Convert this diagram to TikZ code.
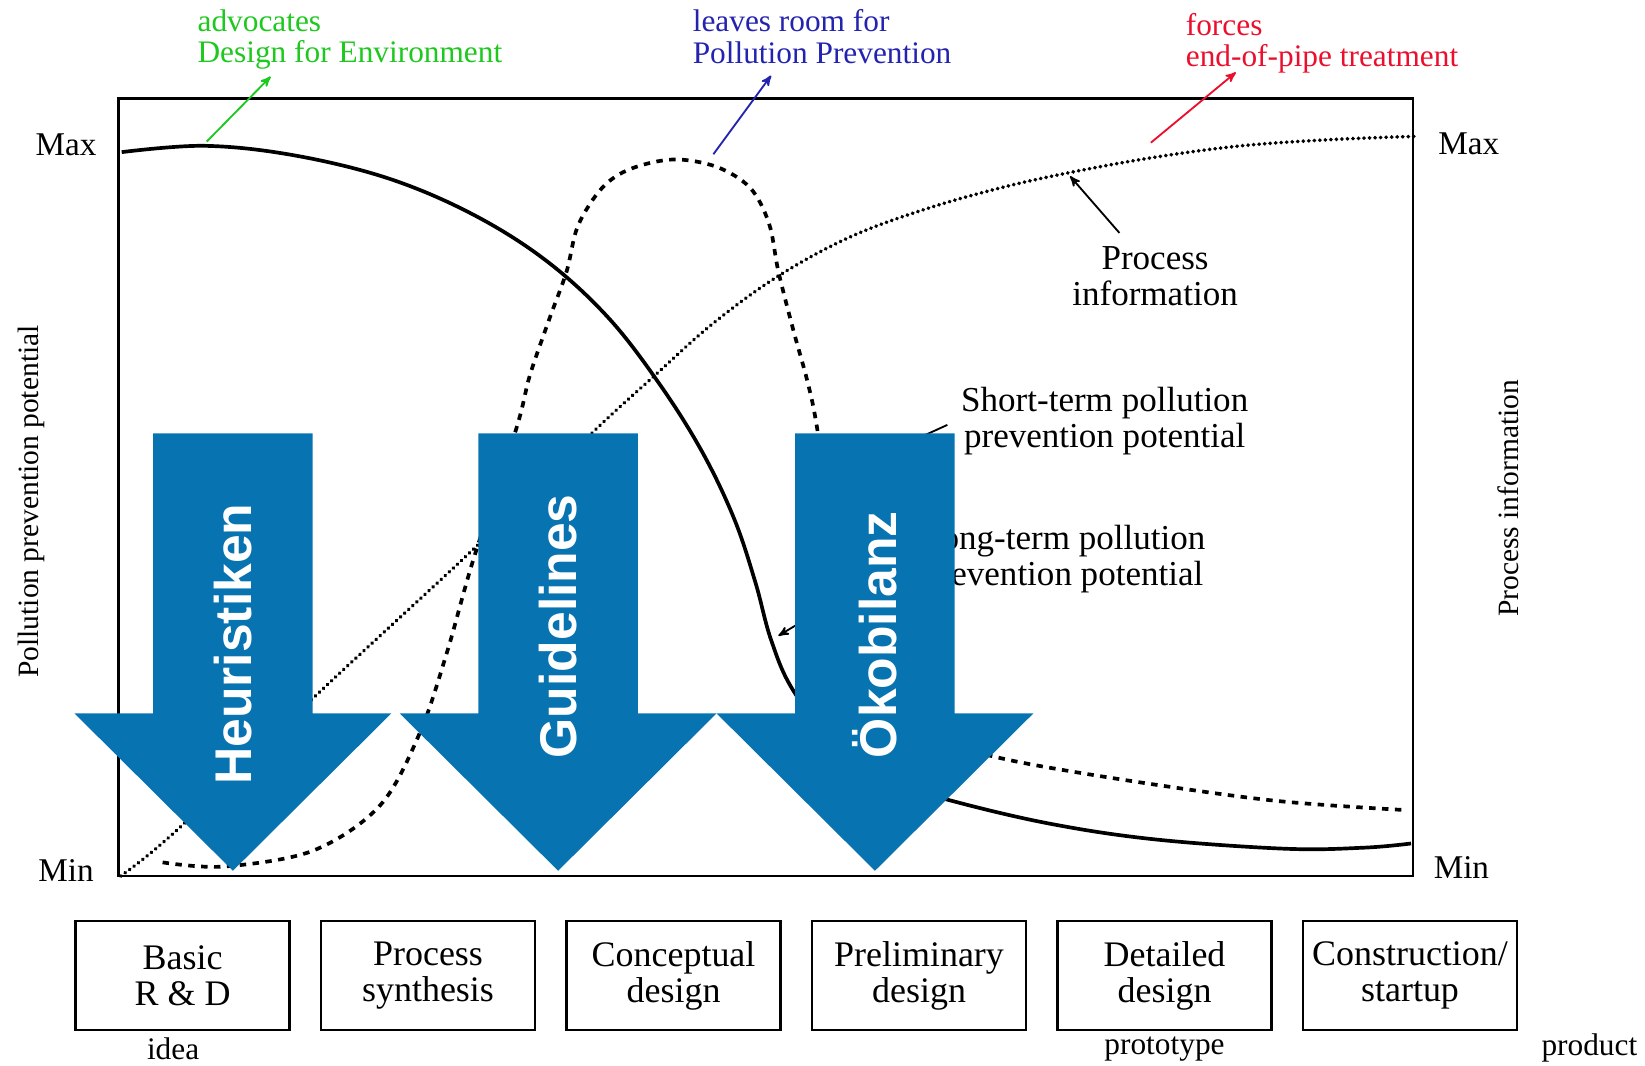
\documentclass[tikz,border=0pt]{standalone}
\usepackage{fontspec}
\setmainfont{Liberation Serif}
\newfontfamily\arrowfont{Liberation Sans}
\usetikzlibrary{arrows,positioning}
\definecolor{arrowblue}{RGB}{8,115,177}
\definecolor{dfegreen}{RGB}{30,200,30}
\definecolor{ppblue}{RGB}{35,35,175}
\definecolor{eopred}{RGB}{235,15,45}
\tikzset{
  phase/.style={draw,line width=1.3pt,minimum width=40.8mm,minimum height=20.8mm,inner sep=0pt,align=center,font=\fontsize{19.5}{19.5}\selectfont},
  toplabel/.style={anchor=north west,align=left,inner sep=0pt,font=\fontsize{17}{17}\selectfont},
  midlabel/.style={align=center,inner sep=0pt,font=\fontsize{19}{19.4}\selectfont},
  scalelabel/.style={inner sep=0pt,font=\fontsize{18}{18}\selectfont},
  axislabel/.style={rotate=90,inner sep=0pt,font=\fontsize{16}{16}\selectfont},
  milestone/.style={inner sep=0pt,font=\fontsize{17}{17}\selectfont},
  bigarrow/.style={fill=arrowblue},
  arrowtext/.style={rotate=90,text=white,inner sep=0pt,font=\arrowfont\bfseries\fontsize{28}{28}\selectfont},
  leader/.style={->,line width=1pt}
}
\begin{document}
\begin{tikzpicture}[x=0.2mm,y=-0.2mm,>=stealth',node distance=46.8mm]
\useasboundingbox (0,0) rectangle (1568,1016);

% frame and scale
\draw[line width=1.4pt] (113,94) rectangle (1347,835);
\node[scalelabel] (maxl) at (63,138) {Max};
\node[scalelabel] (minl) at (63,830) {Min};
\node[scalelabel] (maxr) at (1400,137) {Max};
\node[scalelabel] (minr) at (1393,827) {Min};
\node[axislabel] (ppp) at (30,478) {Pollution prevention potential};
\node[axislabel] (pinfo) at (1438,475) {Process information};

% curves
\draw[line width=2pt] plot[smooth,tension=0.6] coordinates {(116,145) (195,139) (280,148) (370,170) (450,204) (520,248) (580,303) (630,368) (670,432) (700,495) (720,555) (735,610) (756,658) (800,715) (850,745) (906,763) (1000,785) (1100,800) (1225,809) (1300,808) (1345,804)};
\draw[line width=2pt,dash pattern=on 3.5pt off 3.5pt] plot[smooth,tension=0.55] coordinates {(155,822) (213,826) (298,811) (362,768) (400,699) (426,622) (451,534) (492,409) (505,358) (524,303) (540,259) (551,215) (574,179) (601,161) (642,152) (683,159) (715,179) (733,213) (742,259) (756,314) (770,365) (779,409) (795,520) (830,640) (890,700) (951,722) (1069,743) (1213,763) (1337,772)};
\draw[line width=2.1pt,dash pattern=on 0.1pt off 2.9pt,line cap=round] plot[smooth,tension=0.6] coordinates {(115,835) (170,790) (300,664) (456,519) (564,413) (624,358) (680,308) (742,263) (810,226) (880,200) (950,180) (1017,165) (1100,150) (1183,139) (1270,133) (1348,130)};

% labels
\node[toplabel,text=dfegreen] (dfe) at (188,9) {advocates\\Design for Environment};
\node[toplabel,text=ppblue] (p2) at (660,9) {leaves room for\\Pollution Prevention};
\node[toplabel,text=eopred] (eop) at (1130,12) {forces\\end-of-pipe treatment};
\node[midlabel] (procinfo) at (1101,263) {Process\\information};
\node[midlabel] (shortterm) at (1053,401) {Short-term pollution\\prevention potential};
\node[midlabel] (longterm) at (1013,533) {Long-term pollution\\prevention potential};

\coordinate (dfeA) at (197,135);  \coordinate (dfeB) at (258,73);
\coordinate (p2A) at (680,147);   \coordinate (p2B) at (735,72);
\coordinate (eopA) at (1097,136); \coordinate (eopB) at (1178,69);
\coordinate (piA) at (1067,222);  \coordinate (piB) at (1020,168);
\coordinate (stA) at (903,405);   \coordinate (stB) at (787,458);
\coordinate (ltA) at (868,530);   \coordinate (ltB) at (742,606);

\draw[leader,dfegreen] (dfeA) -- (dfeB);
\draw[leader,ppblue] (p2A) -- (p2B);
\draw[leader,eopred] (eopA) -- (eopB);
\draw[leader] (piA) -- (piB);
\draw[leader] (stA) -- (stB);
\draw[leader] (ltA) -- (ltB);

% phases
\node[phase] (rd) at (174,930) {Basic\\R \& D};
\node[phase] (synth) [right of=rd] {Process\\synthesis};
\node[phase] (concept) [right of=synth] {Conceptual\\design};
\node[phase] (prelim) [right of=concept] {Preliminary\\design};
\node[phase] (detail) [right of=prelim] {Detailed\\design};
\node[phase] (constr) [right of=detail] {Construction/\\startup};

\node[milestone] (idea) at (165,1000) {idea};
\node[milestone] (proto) at (1110,1000) {prototype};
\node[milestone] (prod) at (1515,999) {product};

% tools
\foreach \ax/\ty/\lab in {222/614/Heuristiken, 532/597/Guidelines, 834/605/Ökobilanz}{
  \fill[bigarrow] (\ax-76,413) -- (\ax+76,413) -- (\ax+76,680) -- (\ax+151,680)
    -- (\ax,830) -- (\ax-151,680) -- (\ax-76,680) -- cycle;
  \node[arrowtext] (tool-\ax) at (\ax,\ty) {\lab};
}

\end{tikzpicture}
\end{document}
